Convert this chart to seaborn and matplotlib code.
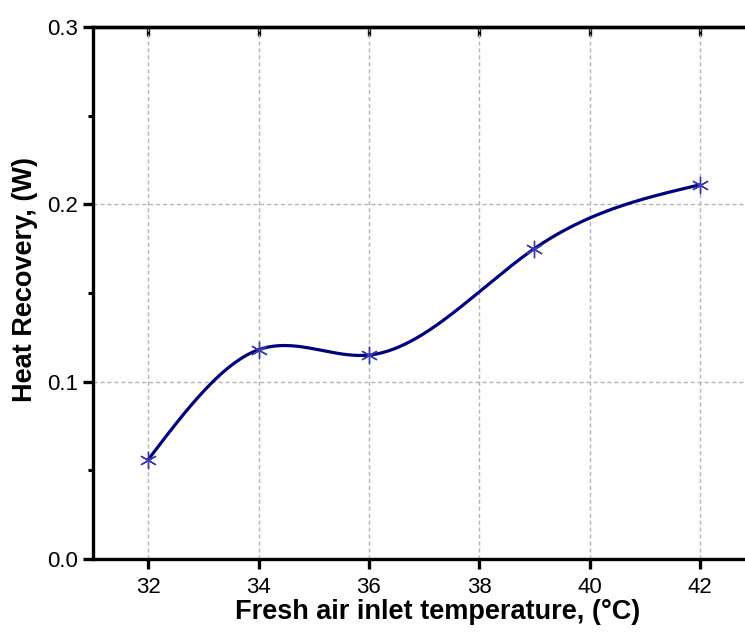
import numpy as np
import pandas as pd
import seaborn as sns
import matplotlib
matplotlib.use("Agg")
import matplotlib.pyplot as plt
from matplotlib.ticker import MultipleLocator

temps = [32, 34, 36, 39, 42]
heat_recovery = [0.056, 0.118, 0.115, 0.175, 0.211]
x_ticks = [32, 34, 36, 38, 40, 42]
y_ticks = [0.0, 0.1, 0.2, 0.3]
x_label = "Fresh air inlet temperature, (°C)"
y_label = "Heat Recovery, (W)"

sns.set_theme(style="ticks", rc={
    "text.color": "black", "axes.labelcolor": "black",
    "xtick.color": "black", "ytick.color": "black",
    "axes.edgecolor": "black",
})
plt.rcParams['font.family'] = ['Liberation Sans', 'DejaVu Sans']


def natural_spline(x, y, xs):
    x = np.asarray(x, float); y = np.asarray(y, float)
    n = len(x)
    h = np.diff(x)
    A = np.zeros((n, n)); b = np.zeros(n)
    A[0, 0] = 1; A[-1, -1] = 1
    for i in range(1, n - 1):
        A[i, i - 1] = h[i - 1]
        A[i, i] = 2 * (h[i - 1] + h[i])
        A[i, i + 1] = h[i]
        b[i] = 6 * ((y[i + 1] - y[i]) / h[i] - (y[i] - y[i - 1]) / h[i - 1])
    M = np.linalg.solve(A, b)
    out = np.empty_like(xs)
    for k, xv in enumerate(xs):
        i = min(np.searchsorted(x, xv) - 1, n - 2)
        i = max(i, 0)
        t0 = x[i + 1] - xv; t1 = xv - x[i]
        out[k] = (M[i] * t0 ** 3 + M[i + 1] * t1 ** 3) / (6 * h[i]) \
            + (y[i] / h[i] - M[i] * h[i] / 6) * t0 \
            + (y[i + 1] / h[i] - M[i + 1] * h[i] / 6) * t1
    return out


df = pd.DataFrame({"T": temps, "HR": heat_recovery})
xs = np.linspace(min(temps), max(temps), 400)
curve = pd.DataFrame({"T": xs, "HR": natural_spline(temps, heat_recovery, xs)})

fig = plt.figure(figsize=(7.45, 6.41), dpi=100)
ax = fig.add_axes([93 / 745, (641 - 559) / 641, (755 - 93) / 745, (559 - 27) / 641])

ax.grid(True, color="#b4b4b4", linestyle=(0, (3, 2)), linewidth=1.0)
ax.set_axisbelow(True)

sns.lineplot(data=curve, x="T", y="HR", ax=ax, color="#00007f", linewidth=2.3, zorder=3)
sns.scatterplot(data=df, x="T", y="HR", ax=ax, marker=(6, 2, 0), s=140,
                color="#3b3bb0", edgecolor="#3b3bb0", linewidth=1.0, zorder=4)

ax.set_xlim(31, 43)
ax.set_ylim(0, 0.3)
ax.set_xticks(x_ticks)
ax.set_yticks(y_ticks)
ax.set_yticklabels([f"{v:.1f}" for v in y_ticks])
ax.yaxis.set_minor_locator(MultipleLocator(0.05))

for s in ax.spines.values():
    s.set_visible(True)
    s.set_color("black")
    s.set_linewidth(2.4)

ax.tick_params(axis="both", which="major", labelsize=16, colors="black", width=2.4, length=7,
               direction="out", pad=4, bottom=True, left=True, top=False, right=False)
ax.tick_params(axis="x", which="major", pad=6)
ax.tick_params(axis="y", which="minor", width=2.2, length=3.5, direction="out", left=True, right=False)
ax.tick_params(axis="x", which="minor", bottom=False, top=False)

# mirrored axes: ticks pointing inward, no labels
sec_x = ax.secondary_xaxis("top")
sec_x.set_xticks(x_ticks)
sec_x.tick_params(direction="in", length=6.5, width=2.4, labeltop=False, colors="black")
sec_x.spines["top"].set_linewidth(2.4)
sec_y = ax.secondary_yaxis("right")
sec_y.set_yticks(y_ticks)
sec_y.tick_params(direction="in", length=6.5, width=2.4, labelright=False, colors="black")
sec_y.spines["right"].set_linewidth(2.4)

ax.set_xlabel(x_label, fontsize=19.5, fontweight="bold")
ax.set_ylabel(y_label, fontsize=19.5, fontweight="bold")
ax.xaxis.set_label_coords((438 - 93) / (755 - 93), -(612 - 559) / (559 - 27))
ax.xaxis.label.set_va("center")
ax.yaxis.set_label_coords(-(93 - 25) / (755 - 93), (559 - 279) / (559 - 27))
ax.yaxis.label.set_va("center")

fig.savefig("out.png", dpi=100)
